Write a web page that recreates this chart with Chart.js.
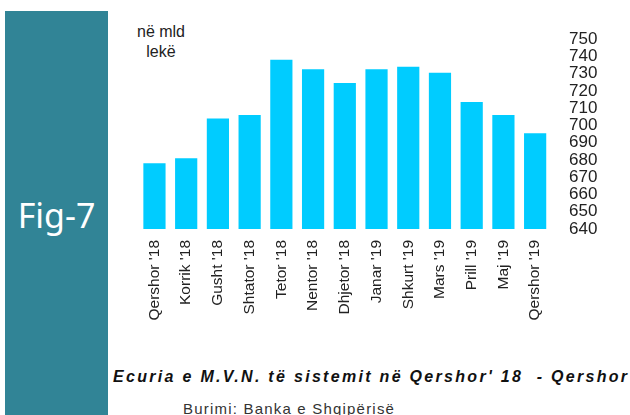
<!DOCTYPE html>
<html lang="sq">
<head>
  <meta charset="UTF-8" />
  <title>Fig-7</title>
  <style>
    body {
      margin: 0;
      width: 630px;
      height: 415px;
      background: #fff;
      position: relative;
      overflow: hidden;
      font-family: "Liberation Sans", Arial, sans-serif;
    }

    .panel {
      position: absolute;
      left: 5px;
      top: 11px;
      width: 103px;
      height: 404px;
      background-color: #318496;
    }

    .fig {
      position: absolute;
      left: 5px;
      top: 195px;
      width: 103px;
      text-align: center;
      color: #fff;
      font-family: "Noto Sans", sans-serif;
      font-size: 34px;
      line-height: 40px;
    }

    .unit {
      position: absolute;
      left: 128px;
      top: 22px;
      width: 66px;
      text-align: center;
      font-size: 16px;
      line-height: 20px;
      color: #222;
    }

    .chart-box {
      position: absolute;
      left: 110px;
      top: 0;
      width: 520px;
      height: 340px;
    }

    .title {
      position: absolute;
      left: 113px;
      top: 368px;
      white-space: pre;
      font-weight: bold;
      font-style: italic;
      font-size: 16px;
      letter-spacing: 2.3px;
      color: #111;
    }

    .source {
      position: absolute;
      left: 183px;
      top: 400px;
      font-size: 15px;
      letter-spacing: 1.2px;
      color: #333;
    }
  </style>
</head>
<body>
  <div class="panel"></div>
  <div class="fig">Fig-7</div>
  <div class="unit">në mld<br>lekë</div>

  <div class="chart-box">
    <canvas id="depositChart" width="520" height="340"></canvas>
  </div>

  <div class="title">Ecuria e M.V.N. të sistemit në Qershor' 18  - Qershor</div>
  <div class="source">Burimi: Banka e Shqipërisë</div>

  <script src="https://cdn.jsdelivr.net/npm/chart.js"></script>
  <script>
    // months on the x axis
    const months = ["Qershor '18", "Korrik '18", "Gusht '18", "Shtator '18", "Tetor '18", "Nentor '18",
                    "Dhjetor '18", "Janar '19", "Shkurt '19", "Mars '19", "Prill '19", "Maj '19", "Qershor '19"];

    // values, in bln lek
    const deposits = [678, 681, 704, 706, 738, 732.5, 724.5, 732.5, 734, 730.5, 713.5, 706, 695.5];

    const axisMin = 640;
    const axisMax = 750;
    const axisStep = 10;

    new Chart(document.getElementById('depositChart'), {
      type: 'bar',
      data: {
        labels: months,
        datasets: [{
          data: deposits,
          backgroundColor: '#00CCFF',
          borderWidth: 0,
          categoryPercentage: 1,
          barPercentage: 0.7
        }]
      },
      options: {
        responsive: false,
        animation: false,
        layout: {
          padding: { left: 28.6, top: 39, right: 0, bottom: 0 }
        },
        plugins: {
          legend: { display: false },
          tooltip: { enabled: false }
        },
        scales: {
          x: {
            grid: { display: false, drawTicks: false },
            border: { display: false },
            ticks: {
              minRotation: 90,
              maxRotation: 90,
              autoSkip: false,
              padding: 11,
              color: '#222',
              font: { family: 'Liberation Sans', size: 15.5 }
            },
            afterFit: scale => { scale.height = 111; }
          },
          y: {
            position: 'right',
            min: axisMin,
            max: axisMax,
            grid: { display: false, drawTicks: false },
            border: { display: false },
            ticks: {
              stepSize: axisStep,
              autoSkip: false,
              padding: 18,
              color: '#222',
              font: { family: 'Liberation Sans', size: 17 }
            },
            afterFit: scale => { scale.width = 79; }
          }
        }
      }
    });
  </script>
</body>
</html>
